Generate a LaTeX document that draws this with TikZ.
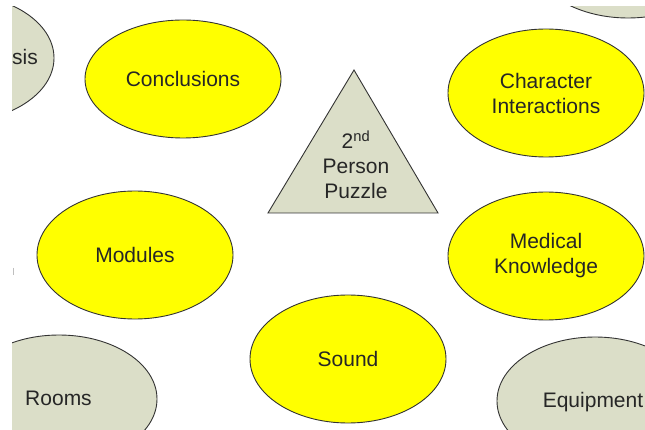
\documentclass[tikz,border=0pt]{standalone}
\usepackage{fontspec}
\setmainfont{Liberation Sans}
\usetikzlibrary{shapes.geometric}

\definecolor{topicyellow}{HTML}{FFFF00}
\definecolor{sidegray}{HTML}{DBDEC8}
\definecolor{edgegray}{HTML}{333333}
\definecolor{labelgray}{HTML}{262626}

\tikzset{
  bubble/.style={ellipse, draw=edgegray, line width=0.9pt,
    minimum width=196pt, minimum height=128pt, inner sep=0pt,
    text=labelgray, align=center,
    font=\fontsize{21}{25}\selectfont},
  topic/.style={bubble, fill=topicyellow},
  side/.style={bubble, fill=sidegray},
  sidelabel/.style={text=labelgray, inner sep=0pt,
    font=\fontsize{21}{25}\selectfont},
  hub/.style={draw=edgegray, line width=0.9pt, fill=sidegray, line join=miter},
}

\begin{document}
\begin{tikzpicture}[x=1pt, y=-1pt]
  \useasboundingbox (0,0) rectangle (645,430);
  \fill[white] (0,0) rectangle (645,430);

  \begin{scope}
    \clip (12,7) rectangle (645,430);

    % outer grey topics, partly off the page
    \node[side] (analysis) at (-44,58) {};
    \node[sidelabel, anchor=west] (analysislabel) at (12,57) {sis};
    \node[side] (extra) at (628,-46) {};
    \node[side] (rooms) at (59,399) {};
    \node[sidelabel] (roomslabel) at (58.5,398) {Rooms};
    \node[side] (equipment) at (595,401) {};
    \node[sidelabel] (equiplabel) at (593,402) {Equipment};

    % yellow topics
    \node[topic, minimum height=118pt] (conclusions) at (183,79) {Conclusions};
    \node[topic] (character) at (546,93) {Character\\Interactions};
    \node[topic] (modules) at (135,255) {Modules};
    \node[topic] (medical) at (546,256) {Medical\\Knowledge};
    \node[topic] (sound) at (348,359) {Sound};

    % central triangle
    \coordinate (apex) at (354,70);
    \coordinate (baseL) at (268,213);
    \coordinate (baseR) at (438,213);
    \filldraw[hub] (apex) -- (baseL) -- (baseR) -- cycle;
    \node[sidelabel, align=center] (puzzle) at (356,165)
      {2\textsuperscript{nd}\\Person\\Puzzle};

    % small sliver at the left margin
    \draw[black!25, line width=1pt] (13,268) -- (13,275);
  \end{scope}
\end{tikzpicture}
\end{document}
